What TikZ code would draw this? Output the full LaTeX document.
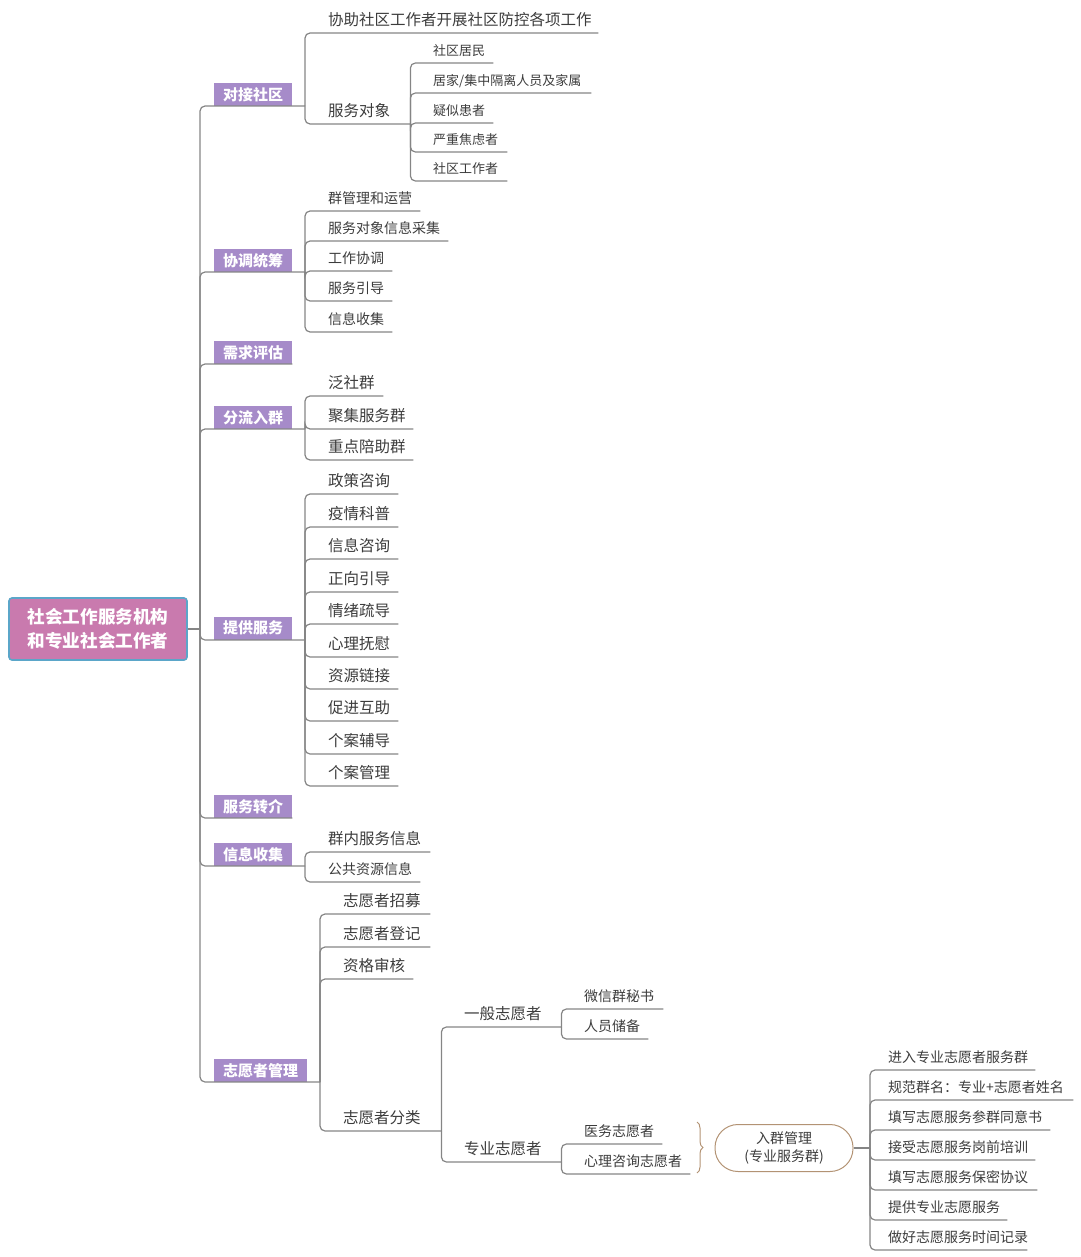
\documentclass[tikz,border=0pt]{standalone}
\usepackage{fontspec}
\setmainfont{Noto Sans CJK SC}
\usepackage{tikz}
\usetikzlibrary{calc, decorations.pathreplacing}
\definecolor{rootpink}{HTML}{C97AAE}
\definecolor{rootblue}{HTML}{5BA6C9}
\definecolor{catpurple}{HTML}{A68BC9}
\definecolor{linegray}{HTML}{858585}
\definecolor{txtgray}{HTML}{3C3C3C}
\definecolor{tan}{HTML}{B39374}

\begin{document}
\begin{tikzpicture}[
        x=1pt, y=-1pt,
        br/.style={draw=linegray, line width=1.2pt, rounded corners=5pt},
        root/.style={fill=rootpink, draw=rootblue, line width=1.6pt, rounded corners=3pt, text=white,
            font=\fontsize{17.6}{24}\bfseries, align=center, minimum width=178pt, minimum height=62pt},
        cat/.style={fill=catpurple, text=white, font=\fontsize{15}{18}\bfseries, anchor=south west,
            inner xsep=9pt, inner ysep=0pt, minimum height=23pt},
        item/.style={anchor=south west, inner xsep=0pt, inner ysep=7.5pt, text depth=0pt, align=left, text=txtgray},
        big/.style={item, text width=#1, font=\fontsize{15.5}{18}\selectfont},
        mid/.style={item, text width=#1, font=\fontsize{14}{17}\selectfont},
        sml/.style={item, text width=#1, font=\fontsize{13}{16}\selectfont},
        pill/.style={draw=tan, line width=1pt, rounded corners=23pt, minimum width=138pt, minimum height=47pt,
            align=center, text=txtgray, font=\fontsize{14}{18}\selectfont},
        brc/.style={draw=tan, line width=1pt, decorate, decoration={brace, amplitude=6pt}}
    ]
        \useasboundingbox (0,0) rectangle (1080,1257);

        \node[root] (root) at (98,629) {社会工作服务机构\\和专业社会工作者};
        \coordinate (trunk) at (200,629);

        \node[cat] (b1) at (214,106) {对接社区};
        \node[cat] (b2) at (214,272) {协调统筹};
        \node[cat] (b3) at (214,364) {需求评估};
        \node[cat] (b4) at (214,429) {分流入群};
        \node[cat] (b5) at (214,640) {提供服务};
        \node[cat] (b6) at (214,818) {服务转介};
        \node[cat] (b7) at (214,866) {信息收集};
        \node[cat] (b8) at (214,1082) {志愿者管理};

        \coordinate (j1) at (305,106);
        \coordinate (j2) at (305,272);
        \coordinate (j4) at (305,429);
        \coordinate (j5) at (305,640);
        \coordinate (j7) at (305,866);
        \coordinate (j8) at (320,1082);

        \draw[br] (root.east) -- (trunk);
        \draw[br] (trunk) |- (b1.south west) -- (j1);
        \draw[br] (trunk) |- (b2.south west) -- (j2);
        \draw[br] (trunk) |- (b3.south west) -- (b3.south east);
        \draw[br] (trunk) |- (b4.south west) -- (j4);
        \draw[br] (trunk) |- (b5.south west) -- (j5);
        \draw[br] (trunk) |- (b6.south west) -- (b6.south east);
        \draw[br] (trunk) |- (b7.south west) -- (j7);
        \draw[br] (trunk) |- (b8.south west) -- (j8);

        % 对接社区
        \node[big=270pt] (a1) at (328,33) {协助社区工作者开展社区防控各项工作};
        \node[big=82pt] (a2) at (328,124) {服务对象};
        \node[sml=60pt] (a21) at (433,63) {社区居民};
        \node[sml=158pt] (a22) at (433,93) {居家/集中隔离人员及家属};
        \node[sml=60pt] (a23) at (433,123) {疑似患者};
        \node[sml=74pt] (a24) at (433,152) {严重焦虑者};
        \node[sml=74pt] (a25) at (433,181) {社区工作者};
        \foreach \n in {a1,a2} \draw[br] (j1) |- (\n.south west) -- (\n.south east);
        \foreach \n in {a21,a22,a23,a24,a25} \draw[br] (a2.south east) |- (\n.south west) -- (\n.south east);

        % 协调统筹
        \node[mid=92pt] (c1) at (328,211) {群管理和运营};
        \node[mid=120pt] (c2) at (328,241) {服务对象信息采集};
        \node[mid=64pt] (c3) at (328,271) {工作协调};
        \node[mid=64pt] (c4) at (328,301) {服务引导};
        \node[mid=64pt] (c5) at (328,332) {信息收集};
        \foreach \n in {c1,c2,c3,c4,c5} \draw[br] (j2) |- (\n.south west) -- (\n.south east);

        % 分流入群
        \node[big=55pt] (d1) at (328,396) {泛社群};
        \node[big=85pt] (d2) at (328,429) {聚集服务群};
        \node[big=85pt] (d3) at (328,460) {重点陪助群};
        \foreach \n in {d1,d2,d3} \draw[br] (j4) |- (\n.south west) -- (\n.south east);

        % 提供服务
        \node[big=70pt] (e1) at (328,494) {政策咨询};
        \node[big=70pt] (e2) at (328,527) {疫情科普};
        \node[big=70pt] (e3) at (328,559) {信息咨询};
        \node[big=70pt] (e4) at (328,592) {正向引导};
        \node[big=70pt] (e5) at (328,624) {情绪疏导};
        \node[big=70pt] (e6) at (328,657) {心理抚慰};
        \node[big=70pt] (e7) at (328,689) {资源链接};
        \node[big=70pt] (e8) at (328,721) {促进互助};
        \node[big=70pt] (e9) at (328,754) {个案辅导};
        \node[big=70pt] (e10) at (328,786) {个案管理};
        \foreach \n in {e1,e2,e3,e4,e5,e6,e7,e8,e9,e10} \draw[br] (j5) |- (\n.south west) -- (\n.south east);

        % 信息收集
        \node[big=102pt] (f1) at (328,852) {群内服务信息};
        \node[mid=92pt] (f2) at (328,882) {公共资源信息};
        \foreach \n in {f1,f2} \draw[br] (j7) |- (\n.south west) -- (\n.south east);

        % 志愿者管理
        \node[big=87pt] (g1) at (343,914) {志愿者招募};
        \node[big=87pt] (g2) at (343,947) {志愿者登记};
        \node[big=70pt] (g3) at (343,979) {资格审核};
        \node[big=98pt] (g4) at (343,1131) {志愿者分类};
        \foreach \n in {g1,g2,g3,g4} \draw[br] (j8) |- (\n.south west) -- (\n.south east);

        \node[big=97pt] (h1) at (464,1027) {一般志愿者};
        \node[big=97pt] (h2) at (464,1162) {专业志愿者};
        \foreach \n in {h1,h2} \draw[br] (g4.south east) |- (\n.south west) -- (\n.south east);

        \node[mid=79pt] (h11) at (584,1009) {微信群秘书};
        \node[mid=64pt] (h12) at (584,1039) {人员储备};
        \foreach \n in {h11,h12} \draw[br] (h1.south east) |- (\n.south west) -- (\n.south east);

        \node[mid=78pt] (h21) at (584,1144) {医务志愿者};
        \node[mid=106pt] (h22) at (584,1174) {心理咨询志愿者};
        \foreach \n in {h21,h22} \draw[br] (h2.south east) |- (\n.south west) -- (\n.south east);

        \draw[brc] (697,1122) -- (697,1173);
        \node[pill] (join) at (784,1148) {入群管理\\(专业服务群)};
        \coordinate (jp) at (870,1148);
        \draw[br] (join.east) -- (jp);

        \node[mid=147pt] (k1) at (888,1070) {进入专业志愿者服务群};
        \node[mid=185pt] (k2) at (888,1100) {规范群名：专业+志愿者姓名};
        \node[mid=162pt] (k3) at (888,1130) {填写志愿服务参群同意书};
        \node[mid=147pt] (k4) at (888,1160) {接受志愿服务岗前培训};
        \node[mid=149pt] (k5) at (888,1190) {填写志愿服务保密协议};
        \node[mid=119pt] (k6) at (888,1220) {提供专业志愿服务};
        \node[mid=139pt] (k7) at (888,1250) {做好志愿服务时间记录};
        \foreach \n in {k1,k2,k3,k4,k5,k6,k7} \draw[br] (jp) |- (\n.south west) -- (\n.south east);
    \end{tikzpicture}
\end{document}
